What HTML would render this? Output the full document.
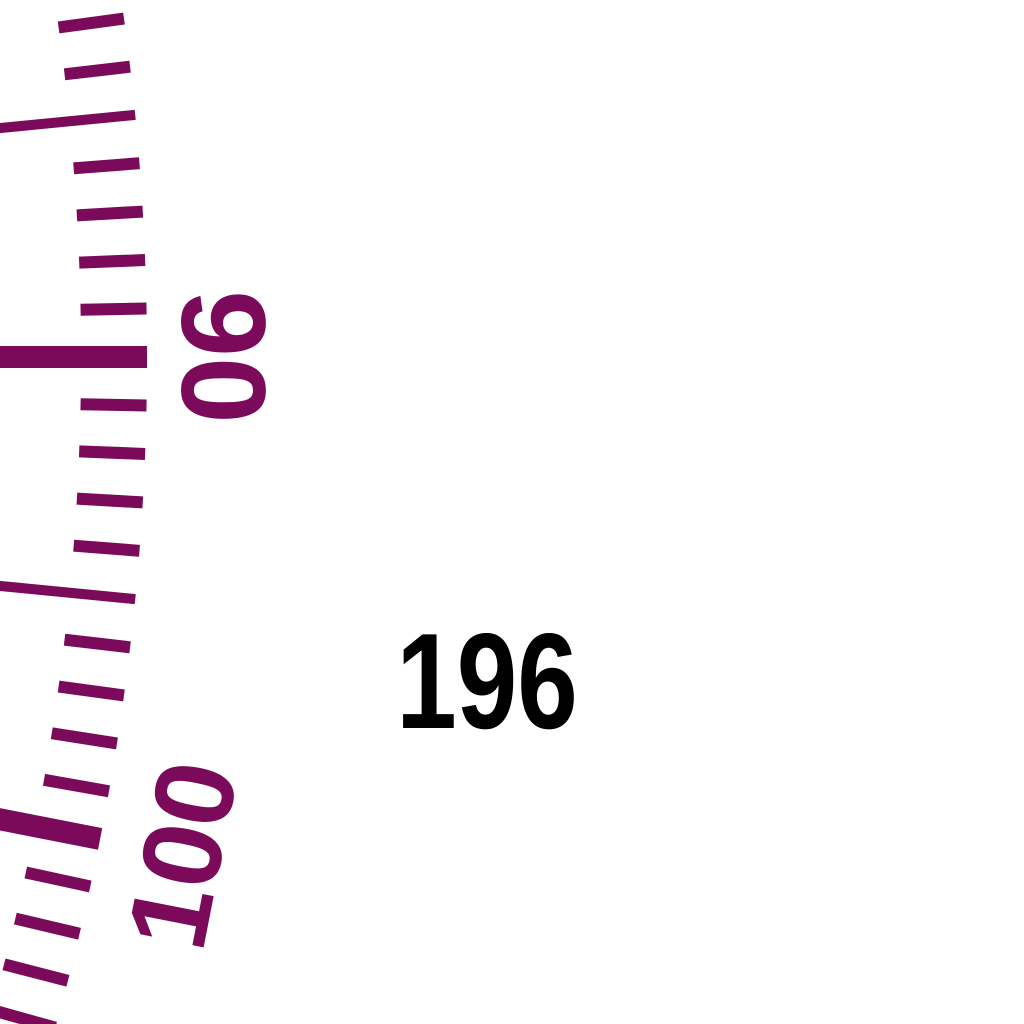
<!DOCTYPE html>
<html><head><meta charset="utf-8"><style>
html,body{margin:0;padding:0;background:#fff;width:1024px;height:1024px;overflow:hidden}
</style></head><body>
<svg id="g" width="1024" height="1024" xmlns="http://www.w3.org/2000/svg">
<text x="487" y="728" font-family="Liberation Sans, sans-serif" font-weight="bold" font-size="136" text-anchor="middle" fill="#000" transform="translate(487,0) scale(0.8,1) translate(-487,0)">196</text>
</svg>
<script>
const tickValues=[83,84,85,86,87,88,89,90,91,92,93,94,95,96,97,98,99,100,101,102,103,104];
const labelValues=[90,100];
const cx=-2353, cy=357, R=2500, refValue=90, radPerUnit=0.0194;
const color='#7b0a5a';
const svg=document.getElementById('g');
const NS='http://www.w3.org/2000/svg';
function ang(v){return (v-refValue)*radPerUnit;}
function pt(v,r){const a=ang(v);return [cx+r*Math.cos(a), cy+r*Math.sin(a)];}
tickValues.forEach(v=>{
  const major10=v%10===0, major5=v%5===0;
  const len=major10?150:(major5?140:66);
  const [x1,y1]=pt(v,R);const [x2,y2]=pt(v,R-len);
  const l=document.createElementNS(NS,'line');
  l.setAttribute('x1',x1);l.setAttribute('y1',y1);l.setAttribute('x2',x2);l.setAttribute('y2',y2);
  l.setAttribute('stroke',color);l.setAttribute('stroke-width',major10?22:(major5?10:12));
  
  
  svg.appendChild(l);
});
labelValues.forEach(v=>{
  const [x,y]=pt(v,R+(v>=100?84:76));
  const t=document.createElementNS(NS,'text');
  const deg=90+ang(v)*180/Math.PI+(v>=100?180:0);
  t.setAttribute('x',0);t.setAttribute('y',0);
  t.setAttribute('transform','translate('+x+','+y+') rotate('+deg+')');
  t.setAttribute('text-anchor','middle');t.setAttribute('dominant-baseline','central');
  t.setAttribute('font-family','Liberation Sans, sans-serif');t.setAttribute('font-weight','bold');
  t.setAttribute('font-size',v>=100?'112':'120');t.setAttribute('fill',color);
  t.textContent=v;
  
  
  svg.appendChild(t);
});
</script>
</body></html>
